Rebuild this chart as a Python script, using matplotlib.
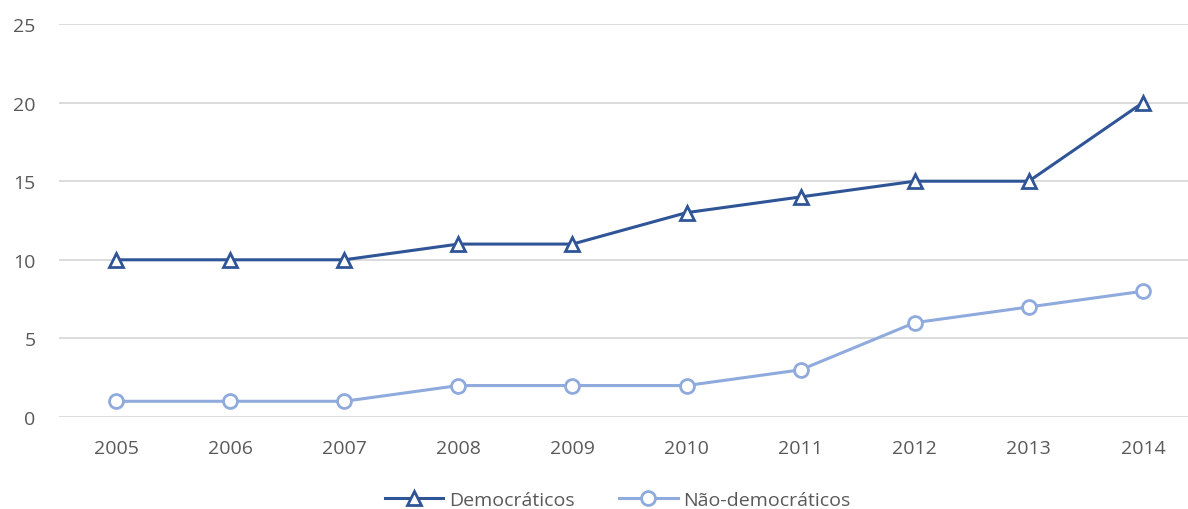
import matplotlib
matplotlib.use('Agg')
import matplotlib.pyplot as plt

years = ['2005', '2006', '2007', '2008', '2009', '2010', '2011', '2012', '2013', '2014']
democraticos = [10, 10, 10, 11, 11, 13, 14, 15, 15, 20]
nao_democraticos = [1, 1, 1, 2, 2, 2, 3, 6, 7, 8]

plt.rcParams['font.family'] = ['Open Sans', 'DejaVu Sans']

fig = plt.figure(figsize=(11.88, 5.10), dpi=100)
ax = fig.add_axes([59/1188, 92/510, 1129/1188, 393/510])

x = list(range(len(years)))
ax.plot(x, democraticos, color='#2F5597', lw=2.2, marker='^', ms=10,
        mfc='white', mec='#2F5597', mew=2, label='Democráticos', zorder=3)
ax.plot(x, nao_democraticos, color='#8FAADC', lw=2.2, marker='o', ms=10,
        mfc='white', mec='#8FAADC', mew=2, label='Não-democráticos', zorder=3)

ax.set_xlim(-0.5, 9.5 - 12/114)
ax.set_ylim(0, 25)
ax.set_yticks([0, 5, 10, 15, 20, 25])
ax.set_xticks(x)
ax.set_xticklabels(years)
ax.grid(axis='y', color='#D9D9D9', lw=1.3)
ax.set_axisbelow(True)
for s in ax.spines.values():
    s.set_visible(False)
ax.tick_params(length=0, labelsize=14, colors='#595959', pad=16)
ax.tick_params(axis='y', pad=17)

leg = fig.legend(loc='center', bbox_to_anchor=(0.52, 0.018), ncol=2, frameon=False,
                 fontsize=14, handlelength=3, columnspacing=2.3, handletextpad=0.3)
for t in leg.get_texts():
    t.set_color('#595959')

fig.savefig('out.png', dpi=100, facecolor='white')
